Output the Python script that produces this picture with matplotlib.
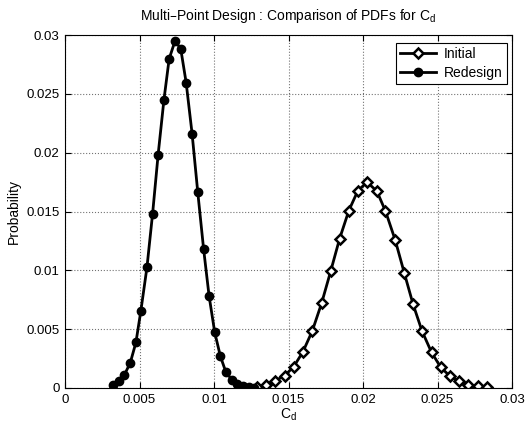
import numpy as np
import matplotlib
matplotlib.use("Agg")
import matplotlib.pyplot as plt

plt.rcParams['font.family'] = ['Liberation Sans', 'DejaVu Sans']

# Redesign PDF
cd_redesign = [0.00320, 0.00360, 0.00398, 0.00438, 0.00476, 0.00509, 0.00550,
               0.00588, 0.00625, 0.00664, 0.00699, 0.00739, 0.00777, 0.00813,
               0.00853, 0.00891, 0.00930, 0.00967, 0.01005, 0.01043, 0.01079,
               0.01119, 0.01157, 0.01195, 0.01235, 0.01270]
p_redesign = [0.00025, 0.00057, 0.00110, 0.00214, 0.00387, 0.00655, 0.01025,
              0.01483, 0.01983, 0.02449, 0.02797, 0.02952, 0.02881, 0.02596,
              0.02161, 0.01664, 0.01184, 0.00782, 0.00472, 0.00269, 0.00138,
              0.00071, 0.00034, 0.00014, 0.00006, 0.00002]

# Initial PDF
cd_initial = [0.01291, 0.01351, 0.01412, 0.01474, 0.01535, 0.01597, 0.01660,
              0.01722, 0.01783, 0.01843, 0.01905, 0.01966, 0.02028, 0.02093,
              0.02151, 0.02216, 0.02277, 0.02336, 0.02397, 0.02460, 0.02522,
              0.02585, 0.02647, 0.02708, 0.02770, 0.02830]
p_initial = [0.00006, 0.00028, 0.00062, 0.00105, 0.00181, 0.00308, 0.00486,
             0.00720, 0.00992, 0.01269, 0.01508, 0.01678, 0.01749, 0.01673,
             0.01503, 0.01258, 0.00978, 0.00712, 0.00481, 0.00303, 0.00175,
             0.00099, 0.00057, 0.00028, 0.00014, 0.00006]

ticks = [0, 0.005, 0.01, 0.015, 0.02, 0.025, 0.03]
tick_labels = ['0', '0.005', '0.01', '0.015', '0.02', '0.025', '0.03']

fig = plt.figure(figsize=(5.26, 4.33), dpi=100)
ax = fig.add_axes([65 / 526, 1 - 388 / 433, (512 - 65) / 526, (388 - 35) / 433])

ax.plot(cd_initial, p_initial, '-', color='k', lw=2, marker='D', ms=5.5,
        mfc='white', mec='k', mew=1.8, label='Initial')
ax.plot(cd_redesign, p_redesign, '-', color='k', lw=2, marker='o', ms=6,
        mfc='k', mec='k', label='Redesign')

ax.set_xlim(0, 0.03)
ax.set_ylim(0, 0.03)
ax.set_xticks(ticks)
ax.set_xticklabels(tick_labels)
ax.set_yticks(ticks)
ax.set_yticklabels(tick_labels)
ax.tick_params(direction='in', top=True, right=True, labelsize=9.5, length=4, pad=4)
ax.grid(True, linestyle=':', color='k', lw=0.8, alpha=0.55)
for s in ax.spines.values():
    s.set_linewidth(0.8)

ax.set_title('Multi\u2013Point Design : Comparison of PDFs for C$_\\mathregular{d}$', fontsize=10, pad=11)
ax.set_xlabel('C$_\\mathregular{d}$', fontsize=10, labelpad=1)
ax.set_ylabel('Probability', fontsize=10, labelpad=4)

leg = ax.legend(loc='upper right', bbox_to_anchor=(0.989, 0.977), borderaxespad=0,
                fontsize=10, fancybox=False, framealpha=1, edgecolor='k',
                borderpad=0.3, handlelength=2.6, labelspacing=0.35, handletextpad=0.6)
leg.get_frame().set_linewidth(0.8)

fig.savefig('out.png', dpi=100)
